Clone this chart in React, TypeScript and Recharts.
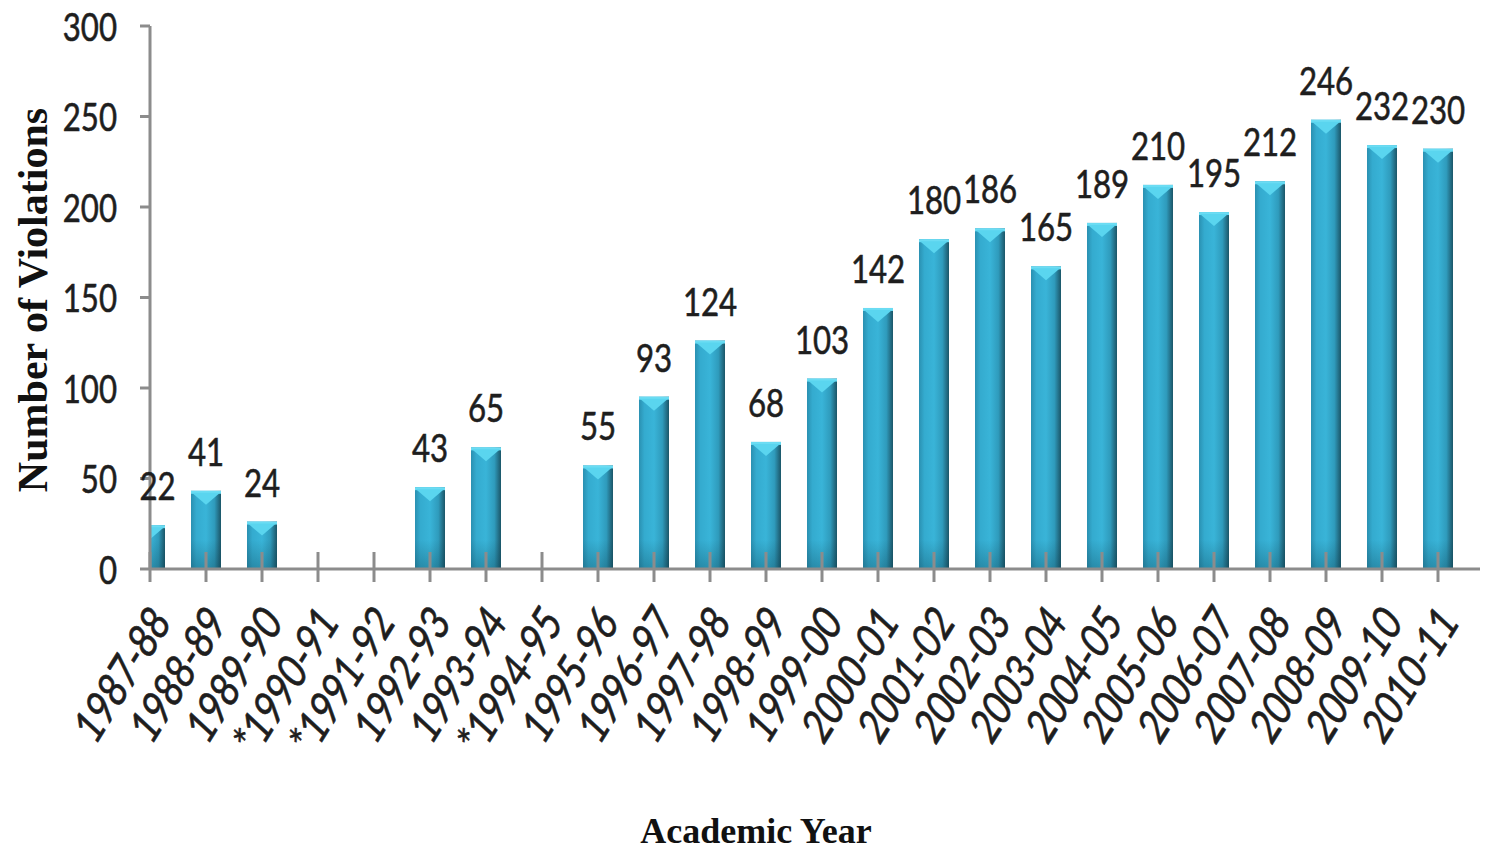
import { Bar, BarChart, LabelList, XAxis, YAxis } from "recharts";

// Academic years and the number of violations per year (blank years have no data)
const years = [
  "1987-88", "1988-89", "1989-90", "*1990-91", "*1991-92", "1992-93",
  "1993-94", "*1994-95", "1995-96", "1996-97", "1997-98", "1998-99",
  "1999-00", "2000-01", "2001-02", "2002-03", "2003-04", "2004-05",
  "2005-06", "2006-07", "2007-08", "2008-09", "2009-10", "2010-11",
];
const violations: (number | null)[] = [
  22, 41, 24, null, null, 43, 65, null, 55, 93, 124, 68,
  103, 142, 180, 186, 165, 189, 210, 195, 212, 246, 232, 230,
];
const yTicks = [0, 50, 100, 150, 200, 250, 300];

const data = years.map((year, idx) => ({ idx, year, violations: violations[idx] }));

const W = 1489;
const H = 851;
const PLOT_LEFT = 150;
const AXIS_GREY = "#8c8c8c";
const INK = "#1e1e1e";
// no narrow face installed: Lato squeezed horizontally stands in for the original
const SANS = 'Lato, "Open Sans", sans-serif';
const SERIF = '"Liberation Serif", "Times New Roman", serif';

function BevelBar(props: any) {
  const { x, y, width, height, payload } = props;
  if (payload?.violations == null || !height) return null;
  const top = y - 4;
  const h = height + 4;
  const cx = x + width / 2;
  return (
    <g clipPath="url(#plotClip)">
      <rect x={x} y={top} width={width} height={h} fill="url(#barBody)" />
      <rect x={x} y={top} width={width} height={h} fill="url(#barBase)" />
      <rect x={x} y={top} width={width} height={3} fill="#6bdcf3" />
      <polygon
        points={`${x + 1},${top + 2} ${x + width - 1},${top + 2} ${cx},${top + 14}`}
        fill="#5ad5ef"
      />
    </g>
  );
}

function ValueLabel(props: any) {
  const vb = props.viewBox ?? props;
  const { value } = props;
  if (value == null) return null;
  // first bar is cut by the axis, centre the label on what is visible
  const left = Math.max(vb.x, PLOT_LEFT);
  const cx = (left + vb.x + vb.width) / 2;
  return (
    <text
      transform={`translate(${cx} ${vb.y - 29}) scale(0.8 1)`}
      textAnchor="middle"
      fontFamily={SANS}
      fontSize={39}
      fill={INK}
      stroke={INK}
      strokeWidth={0.6}
    >
      {value}
    </text>
  );
}

function CountTick({ x, y, payload }: any) {
  return (
    <text
      transform={`translate(${x} ${y}) scale(0.8 1)`}
      textAnchor="end"
      dominantBaseline="central"
      fontFamily={SANS}
      fontSize={39}
      fill={INK}
      stroke={INK}
      strokeWidth={0.6}
    >
      {payload.value}
    </text>
  );
}

function YearTick({ x, y, payload }: any) {
  const ax = x + 9;
  const ay = y + 43;
  return (
    <g>
      <line x1={x} x2={x} y1={y - 17} y2={y + 13} stroke={AXIS_GREY} strokeWidth={3} />
      <text
        transform={`translate(${ax} ${ay}) scale(1 1.22) rotate(-52.7) scale(0.8 1)`}
        textAnchor="end"
        dominantBaseline="central"
        fontFamily={SANS}
        fontSize={41}
        fill={INK}
        stroke={INK}
        strokeWidth={0.6}
      >
        {years[payload.value]}
      </text>
    </g>
  );
}

export default function App() {
  return (
    <div style={{ position: "absolute", left: 0, top: 0, width: W, height: H, background: "#fff" }}>
      <BarChart width={W} height={H} data={data} margin={{ top: 26, right: 9, left: 0, bottom: 0 }}>
        <defs>
          <linearGradient id="barBody" x1="0" y1="0" x2="1" y2="0">
            <stop offset="0%" stopColor="#2a90b1" />
            <stop offset="18%" stopColor="#34abcf" />
            <stop offset="50%" stopColor="#39b4d8" />
            <stop offset="78%" stopColor="#2f9bbc" />
            <stop offset="90%" stopColor="#25758e" />
            <stop offset="100%" stopColor="#1b5668" />
          </linearGradient>
          <linearGradient id="barBase" gradientUnits="userSpaceOnUse" x1="0" y1="540" x2="0" y2="569">
            <stop offset="0%" stopColor="#0a3a4a" stopOpacity={0} />
            <stop offset="100%" stopColor="#0a3a4a" stopOpacity={0.3} />
          </linearGradient>
          <clipPath id="plotClip">
            <rect x={PLOT_LEFT} y={0} width={W - PLOT_LEFT} height={H} />
          </clipPath>
        </defs>
        <YAxis
          type="number"
          domain={[0, 300]}
          ticks={yTicks}
          width={150}
          tickSize={10}
          tickMargin={23}
          axisLine={{ stroke: AXIS_GREY, strokeWidth: 3 }}
          tickLine={{ stroke: AXIS_GREY, strokeWidth: 3 }}
          tick={<CountTick />}
        />
        <Bar dataKey="violations" barSize={30} shape={<BevelBar />} isAnimationActive={false}>
          <LabelList dataKey="violations" content={<ValueLabel />} />
        </Bar>
        <XAxis
          type="number"
          dataKey="idx"
          domain={[0, 23.75]}
          ticks={data.map((d) => d.idx)}
          interval={0}
          height={282}
          tickSize={0}
          tickMargin={0}
          tickLine={false}
          axisLine={{ stroke: AXIS_GREY, strokeWidth: 3 }}
          tick={<YearTick />}
        />
      </BarChart>
      <svg width={W} height={H} style={{ position: "absolute", left: 0, top: 0, pointerEvents: "none" }}>
        <text
          x={33}
          y={300}
          transform="rotate(-90 33 300)"
          textAnchor="middle"
          dominantBaseline="central"
          fontFamily={SERIF}
          fontWeight="bold"
          fontSize={42}
          fill="#111"
        >
          Number of Violations
        </text>
        <text x={756} y={843} textAnchor="middle" fontFamily={SERIF} fontWeight="bold" fontSize={36} fill="#111">
          Academic Year
        </text>
      </svg>
    </div>
  );
}
